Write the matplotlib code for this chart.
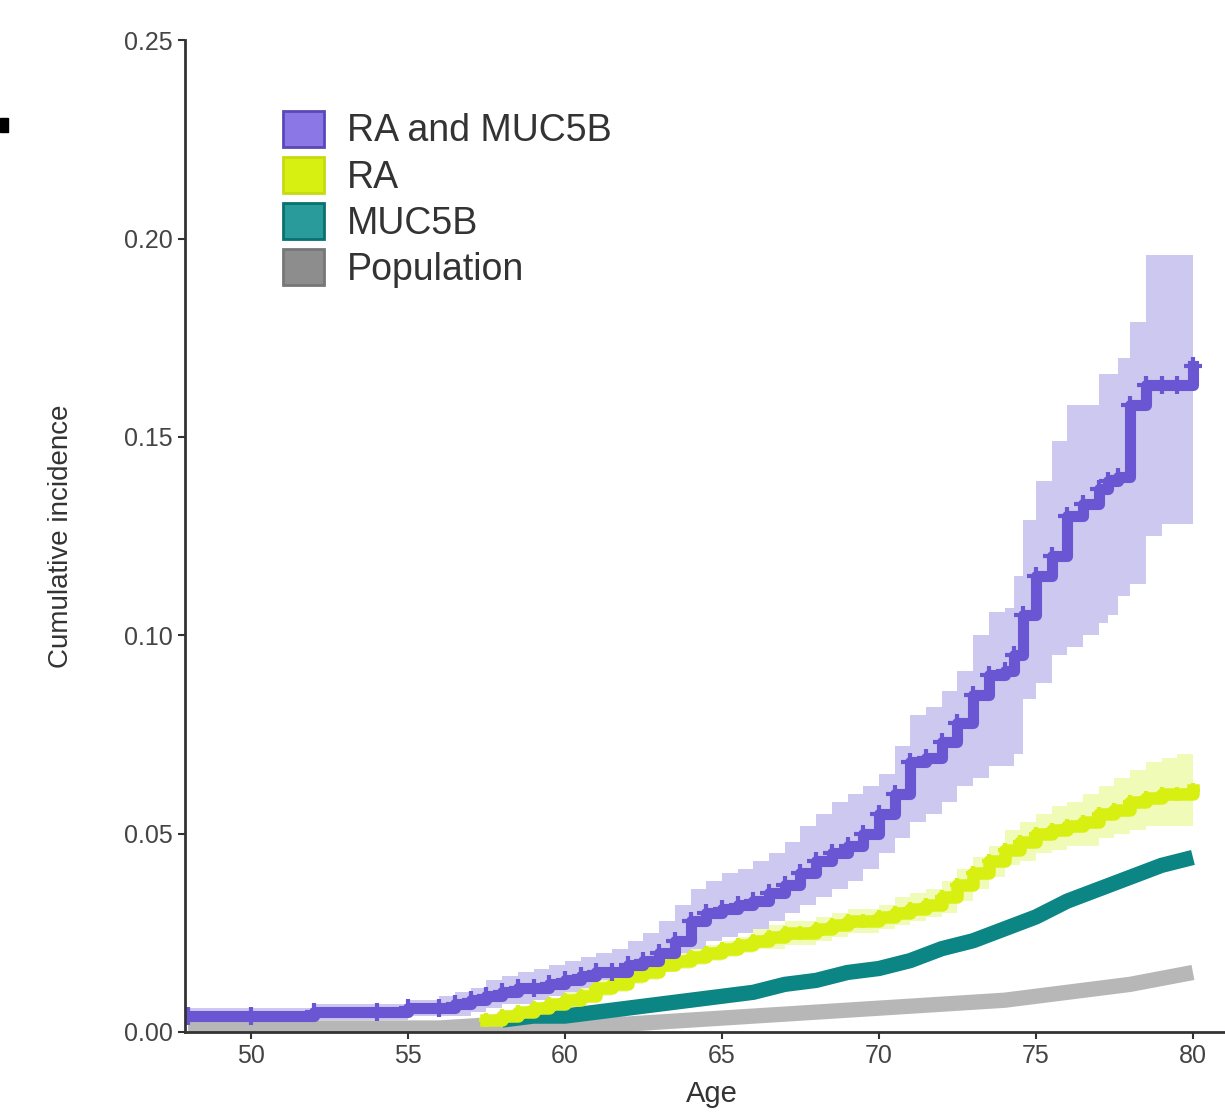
import matplotlib.pyplot as plt
from matplotlib.patches import Patch, Rectangle

plt.rcParams['font.family'] = ['Liberation Sans', 'DejaVu Sans']

# ages at which the step curves are read
age_both = [48, 50, 52, 54, 55, 56, 56.5, 57, 57.5, 58, 58.5, 59, 59.5, 60, 60.5, 61, 61.5, 62, 62.5,
            63, 63.5, 64, 64.5, 65, 65.5, 66, 66.5, 67, 67.5, 68, 68.5, 69, 69.5, 70, 70.5, 71, 71.5,
            72, 72.5, 73, 73.5, 74, 74.3, 74.6, 75, 75.5, 76, 76.5, 77, 77.3, 77.6, 78, 78.5, 79, 79.5, 80]
both = [0.004, 0.004, 0.005, 0.005, 0.006, 0.006, 0.007, 0.008, 0.009, 0.010, 0.011, 0.011, 0.012, 0.013, 0.014, 0.015, 0.015, 0.017, 0.018,
        0.020, 0.023, 0.028, 0.030, 0.031, 0.032, 0.033, 0.035, 0.037, 0.040, 0.043, 0.045, 0.047, 0.050, 0.055, 0.060, 0.068, 0.069,
        0.073, 0.078, 0.085, 0.090, 0.091, 0.095, 0.105, 0.115, 0.120, 0.130, 0.133, 0.137, 0.139, 0.140, 0.158, 0.163, 0.163, 0.163, 0.168]
both_hi = [0.006, 0.006, 0.007, 0.007, 0.008, 0.009, 0.010, 0.011, 0.013, 0.014, 0.015, 0.016, 0.017, 0.018, 0.019, 0.020, 0.021, 0.023, 0.025,
           0.028, 0.032, 0.036, 0.038, 0.040, 0.041, 0.043, 0.045, 0.048, 0.052, 0.055, 0.058, 0.060, 0.062, 0.065, 0.072, 0.080, 0.082,
           0.086, 0.091, 0.100, 0.106, 0.107, 0.115, 0.129, 0.139, 0.149, 0.158, 0.158, 0.166, 0.166, 0.170, 0.179, 0.196, 0.196, 0.196, 0.203]
both_lo = [0.002, 0.002, 0.003, 0.003, 0.004, 0.004, 0.004, 0.005, 0.006, 0.007, 0.007, 0.008, 0.009, 0.010, 0.010, 0.011, 0.011, 0.013, 0.014,
           0.015, 0.017, 0.021, 0.023, 0.024, 0.025, 0.026, 0.028, 0.030, 0.032, 0.034, 0.036, 0.038, 0.041, 0.045, 0.049, 0.053, 0.055,
           0.058, 0.062, 0.064, 0.067, 0.067, 0.070, 0.084, 0.088, 0.095, 0.097, 0.100, 0.103, 0.105, 0.110, 0.113, 0.125, 0.128, 0.128, 0.128]

age_ra = [57.5, 58, 58.5, 59, 59.5, 60, 60.5, 61, 61.5, 62, 62.5, 63, 63.5, 64, 64.5, 65, 65.5, 66, 66.5, 67, 67.5, 68, 68.5,
          69, 69.5, 70, 70.5, 71, 71.5, 72, 72.5, 73, 73.5, 74, 74.5, 75, 75.5, 76, 76.5, 77, 77.5, 78, 78.5, 79, 79.5, 80]
ra = [0.003, 0.004, 0.005, 0.006, 0.007, 0.008, 0.009, 0.011, 0.012, 0.014, 0.015, 0.017, 0.018, 0.019, 0.020, 0.021, 0.022, 0.023, 0.024, 0.025, 0.025, 0.026, 0.027,
      0.028, 0.028, 0.029, 0.030, 0.031, 0.032, 0.034, 0.037, 0.040, 0.043, 0.046, 0.048, 0.050, 0.051, 0.052, 0.053, 0.055, 0.056, 0.058, 0.059, 0.060, 0.060, 0.061]
ra_hi = [0.004, 0.005, 0.006, 0.007, 0.008, 0.010, 0.011, 0.013, 0.014, 0.016, 0.017, 0.019, 0.020, 0.021, 0.022, 0.023, 0.024, 0.026, 0.027, 0.028, 0.028, 0.029, 0.030,
         0.031, 0.031, 0.032, 0.034, 0.035, 0.036, 0.038, 0.041, 0.044, 0.047, 0.051, 0.053, 0.055, 0.057, 0.058, 0.060, 0.062, 0.064, 0.066, 0.068, 0.069, 0.070, 0.071]
ra_lo = [0.002, 0.003, 0.004, 0.005, 0.006, 0.007, 0.008, 0.009, 0.010, 0.012, 0.013, 0.015, 0.016, 0.017, 0.018, 0.019, 0.020, 0.021, 0.021, 0.022, 0.022, 0.023, 0.024,
         0.025, 0.025, 0.026, 0.027, 0.028, 0.029, 0.030, 0.033, 0.036, 0.039, 0.042, 0.043, 0.045, 0.046, 0.047, 0.047, 0.049, 0.050, 0.051, 0.052, 0.052, 0.052, 0.052]

age_muc = [58, 59, 60, 61, 62, 63, 64, 65, 66, 67, 68, 69, 70, 71, 72, 73, 74, 75, 76, 77, 78, 79, 80]
muc = [0.003, 0.004, 0.004, 0.005, 0.006, 0.007, 0.008, 0.009, 0.010, 0.012, 0.013, 0.015, 0.016, 0.018, 0.021, 0.023, 0.026, 0.029, 0.033, 0.036, 0.039, 0.042, 0.044]

age_pop = [48, 50, 52, 54, 56, 58, 60, 62, 64, 66, 68, 70, 72, 74, 76, 78, 80]
pop = [0.001, 0.001, 0.001, 0.001, 0.001, 0.002, 0.002, 0.002, 0.003, 0.004, 0.005, 0.006, 0.007, 0.008, 0.010, 0.012, 0.015]

labels = ['RA and MUC5B', 'RA', 'MUC5B', 'Population']
colors = ['#6a55d2', '#d8ef12', '#0c8585', '#b7b7b7']
band_colors = ['#cdc8f0', '#f1fbb8', '#c9f4f4', '#d8d8d8']
key_colors = ['#8b78e6', '#d8ef12', '#2a9b9b', '#8d8d8d']
edge_colors = ['#5a48b8', '#c5db10', '#0a7070', '#777777']

fig = plt.figure(figsize=(12.25, 11.2), dpi=100)
ax = fig.add_axes([0.151, 0.0786, 0.86, 0.8854])

# confidence bands
ax.fill_between(age_both, both_lo, both_hi, step='post', color=band_colors[0], lw=0)
ax.fill_between(age_ra, ra_lo, ra_hi, step='post', color=band_colors[1], lw=0)

# curves
ax.plot(age_pop, pop, color=colors[3], lw=11, solid_capstyle='butt')
ax.plot(age_muc, muc, color=colors[2], lw=11, solid_capstyle='butt')
ax.plot(age_ra, ra, color=colors[1], lw=9, drawstyle='steps-post', marker='+', ms=10, mew=3)
ax.plot(age_both, both, color=colors[0], lw=8, drawstyle='steps-post', marker='+', ms=13, mew=3)

ax.set_xlim(47.9, 81.45)
ax.set_ylim(0, 0.25)
ax.set_xticks([50, 55, 60, 65, 70, 75, 80])
ax.set_yticks([0, 0.05, 0.10, 0.15, 0.20, 0.25])
ax.set_yticklabels(['0.00', '0.05', '0.10', '0.15', '0.20', '0.25'])
ax.tick_params(labelsize=18, colors='#333333', length=5, width=1.5, labelcolor='#444444', pad=4)
for s in ['top', 'right']:
    ax.spines[s].set_visible(False)
for s in ['left', 'bottom']:
    ax.spines[s].set_linewidth(2)
    ax.spines[s].set_color('#333333')

ax.set_xlabel('Age', fontsize=21, color='#333333', labelpad=8)
ax.set_ylabel('Cumulative incidence', fontsize=20, color='#333333', labelpad=36)

handles = [Patch(facecolor=c, edgecolor=e, lw=2) for c, e in zip(key_colors, edge_colors)]
ax.legend(handles, labels, loc='upper left', bbox_to_anchor=(0.093, 0.929), frameon=False,
          fontsize=27, handlelength=1.1, handleheight=1.1, handletextpad=0.6, labelspacing=0.2,
          borderpad=0, borderaxespad=0, labelcolor='#333333')

# small black mark at the left edge of the picture
fig.patches.append(Rectangle((0, 1 - 132 / 1120), 8 / 1225, 14 / 1120,
                             transform=fig.transFigure, color='black'))

fig.savefig('out.png', dpi=100)
